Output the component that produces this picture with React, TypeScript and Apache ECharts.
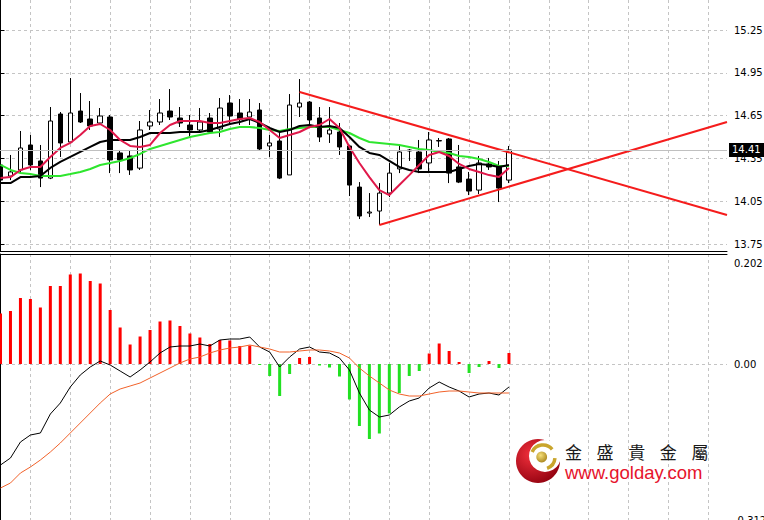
import React, { useEffect, useRef } from 'react';
import * as echarts from 'echarts';

// Candles: [open, close, low, high]
const candles: number[][] = [
  [14.305, 14.199, 14.143, 14.424],
  [14.227, 14.256, 14.199, 14.375],
  [14.270, 14.424, 14.248, 14.543],
  [14.445, 14.305, 14.270, 14.515],
  [14.333, 14.213, 14.150, 14.445],
  [14.213, 14.613, 14.206, 14.711],
  [14.662, 14.459, 14.361, 14.676],
  [14.466, 14.669, 14.459, 14.914],
  [14.683, 14.606, 14.599, 14.809],
  [14.627, 14.578, 14.550, 14.753],
  [14.599, 14.648, 14.585, 14.704],
  [14.641, 14.340, 14.248, 14.655],
  [14.389, 14.340, 14.248, 14.410],
  [14.368, 14.270, 14.235, 14.410],
  [14.283, 14.550, 14.270, 14.613],
  [14.578, 14.606, 14.550, 14.690],
  [14.606, 14.669, 14.585, 14.767],
  [14.683, 14.641, 14.620, 14.837],
  [14.634, 14.599, 14.571, 14.711],
  [14.585, 14.550, 14.494, 14.655],
  [14.550, 14.606, 14.536, 14.704],
  [14.634, 14.536, 14.522, 14.669],
  [14.557, 14.704, 14.501, 14.774],
  [14.739, 14.648, 14.599, 14.795],
  [14.669, 14.627, 14.585, 14.767],
  [14.641, 14.676, 14.585, 14.767],
  [14.690, 14.417, 14.410, 14.739],
  [14.438, 14.459, 14.361, 14.515],
  [14.473, 14.213, 14.206, 14.536],
  [14.235, 14.725, 14.235, 14.802],
  [14.711, 14.739, 14.641, 14.907],
  [14.746, 14.620, 14.585, 14.753],
  [14.634, 14.501, 14.466, 14.711],
  [14.522, 14.550, 14.459, 14.711],
  [14.536, 14.431, 14.375, 14.599],
  [14.438, 14.164, 14.087, 14.445],
  [14.150, 13.947, 13.926, 14.185],
  [13.968, 13.975, 13.940, 14.108],
  [13.982, 14.108, 13.884, 14.178],
  [14.108, 14.248, 14.080, 14.319],
  [14.277, 14.396, 14.248, 14.438],
  [14.403, 14.410, 14.333, 14.417],
  [14.396, 14.277, 14.248, 14.480],
  [14.319, 14.480, 14.248, 14.536],
  [14.473, 14.476, 14.431, 14.494],
  [14.487, 14.248, 14.178, 14.494],
  [14.291, 14.185, 14.178, 14.445],
  [14.206, 14.122, 14.094, 14.256],
  [14.129, 14.319, 14.101, 14.368],
  [14.312, 14.291, 14.270, 14.354],
  [14.291, 14.143, 14.045, 14.333],
  [14.199, 14.410, 14.178, 14.438],
];

const maFast = [
  14.213, 14.220, 14.270, 14.291, 14.291, 14.361, 14.424, 14.459, 14.515, 14.578,
  14.592, 14.550, 14.480, 14.438, 14.431, 14.445, 14.529, 14.585, 14.613, 14.613,
  14.613, 14.599, 14.599, 14.613, 14.627, 14.634, 14.606, 14.550, 14.494, 14.515,
  14.536, 14.571, 14.585, 14.627, 14.564, 14.431, 14.319, 14.220, 14.129, 14.094,
  14.164, 14.234, 14.305, 14.375, 14.396, 14.368, 14.312, 14.277, 14.256, 14.234,
  14.220, 14.284,
];

const maMid = [
  14.178, 14.178, 14.220, 14.220, 14.227, 14.284, 14.326, 14.361, 14.396, 14.431,
  14.466, 14.480, 14.480, 14.480, 14.501, 14.529, 14.529, 14.529, 14.536, 14.536,
  14.536, 14.550, 14.571, 14.592, 14.606, 14.627, 14.599, 14.564, 14.536, 14.550,
  14.578, 14.585, 14.571, 14.578, 14.564, 14.501, 14.431, 14.389, 14.375, 14.333,
  14.291, 14.270, 14.256, 14.256, 14.256, 14.256, 14.277, 14.298, 14.312, 14.305,
  14.291, 14.305,
];

const maSlow = [
  14.305, 14.270, 14.249, 14.241, 14.227, 14.227, 14.227, 14.241, 14.256, 14.277,
  14.305, 14.319, 14.333, 14.354, 14.382, 14.417, 14.438, 14.459, 14.480, 14.501,
  14.515, 14.529, 14.536, 14.557, 14.571, 14.571, 14.564, 14.550, 14.543, 14.557,
  14.564, 14.571, 14.571, 14.571, 14.550, 14.529, 14.494, 14.466, 14.459, 14.452,
  14.445, 14.431, 14.417, 14.410, 14.396, 14.389, 14.368, 14.361, 14.347, 14.326,
  14.298, 14.298,
];

const macdHist = [
  0.101, 0.106, 0.132, 0.130, 0.113, 0.156, 0.156, 0.179, 0.181, 0.166,
  0.161, 0.108, 0.073, 0.039, 0.055, 0.068, 0.085, 0.087, 0.076, 0.061,
  0.053, 0.040, 0.048, 0.047, 0.036, 0.037, -0.002, -0.024, -0.064, -0.020,
  0.012, 0.014, -0.003, -0.007, -0.025, -0.071, -0.124, -0.150, -0.139, -0.099,
  -0.058, -0.024, -0.014, 0.021, 0.041, 0.026, 0.004, -0.018, -0.006, 0.006,
  -0.008, 0.022,
];

const macdLine = [
  -0.202, -0.188, -0.156, -0.142, -0.138, -0.100, -0.078, -0.046, -0.022, -0.006,
  0.006, -0.002, -0.014, -0.026, -0.012, 0.004, 0.022, 0.034, 0.036, 0.036,
  0.040, 0.036, 0.048, 0.050, 0.050, 0.054, 0.034, 0.024, -0.006, 0.014,
  0.030, 0.034, 0.024, 0.022, 0.012, -0.012, -0.058, -0.092, -0.106, -0.102,
  -0.086, -0.074, -0.068, -0.048, -0.036, -0.046, -0.054, -0.066, -0.060, -0.058,
  -0.062, -0.046,
];

const signalLine = [
  -0.248, -0.238, -0.218, -0.206, -0.192, -0.176, -0.158, -0.138, -0.118, -0.098,
  -0.078, -0.060, -0.050, -0.044, -0.038, -0.028, -0.018, -0.008, 0.002, 0.010,
  0.014, 0.022, 0.028, 0.032, 0.034, 0.038, 0.034, 0.030, 0.024, 0.024,
  0.026, 0.028, 0.028, 0.026, 0.022, 0.012, -0.008, -0.024, -0.038, -0.052,
  -0.060, -0.064, -0.064, -0.060, -0.056, -0.054, -0.054, -0.056, -0.058, -0.058,
  -0.058, -0.058,
];

// trend lines: [barIndex, price]
const upperTrend = [[30, 14.816], [72.87, 13.954]];
const lowerTrend = [[38, 13.884], [72.87, 14.606]];

const lastPrice = 14.41;
const priceTicks = [13.75, 14.05, 14.35, 14.65, 14.95, 15.25];
const macdTicks = [0.202, 0, -0.312];
const macdTickLabels = ['0.202', '0.00', '-0.312'];
const gridColumns = [3, 7, 11, 15, 19, 23, 27, 31, 35, 39, 43, 47, 51, 55, 59, 63, 67, 71];

const brandName = '金盛貴金屬';
const brandUrl = 'www.golday.com';

const X_MIN = -0.05;
const X_MAX = 72.87;

export default function App() {
  const ref = useRef<HTMLDivElement>(null);

  useEffect(() => {
    document.body.style.margin = '0';
    if (!ref.current) return;
    const chart = echarts.init(ref.current, null, { renderer: 'svg' });

    const dash = { color: '#c4c4c4', type: [3, 3] as any, width: 1 };
    const axisFont = { fontFamily: 'DejaVu Sans', fontSize: 10, color: '#000' };

    const xAxisBase = (gridIndex: number, position: string) => ({
      type: 'value',
      gridIndex,
      min: X_MIN,
      max: X_MAX,
      position,
      axisLine: { show: true, onZero: false, lineStyle: { color: '#000', width: 1 } },
      axisTick: { show: false, customValues: gridColumns },
      axisLabel: { show: false },
      splitLine: { show: true, lineStyle: dash },
    });

    const idx = (arr: number[]) => arr.map((v, i) => [i, v]);

    const option: any = {
      animation: false,
      backgroundColor: '#ffffff',
      grid: [
        { left: 0, right: 37, top: 0, height: 251, outerBoundsMode: 'none', containLabel: false },
        { left: 0, right: 37, top: 254, bottom: 0, outerBoundsMode: 'none', containLabel: false },
      ],
      xAxis: [xAxisBase(0, 'bottom'), xAxisBase(1, 'top')],
      yAxis: [
        {
          type: 'value',
          gridIndex: 0,
          position: 'right',
          min: 13.702,
          max: 15.461,
          axisLine: { show: true, lineStyle: { color: '#000', width: 1 } },
          axisTick: { show: true, length: 4, inside: false, customValues: priceTicks, lineStyle: { color: '#000' } },
          axisLabel: {
            ...axisFont,
            margin: 7,
            customValues: priceTicks,
            formatter: (v: number) => v.toFixed(2),
          },
          splitLine: { show: true, lineStyle: dash },
        },
        {
          type: 'value',
          gridIndex: 1,
          position: 'right',
          min: -0.312,
          max: 0.22,
          axisLine: { show: true, lineStyle: { color: '#000', width: 1 } },
          axisTick: { show: false, customValues: [0] },
          axisLabel: {
            ...axisFont,
            margin: 7,
            customValues: macdTicks,
            formatter: (v: number) => {
              const k = macdTicks.findIndex((t) => Math.abs(t - v) < 1e-6);
              return k >= 0 ? macdTickLabels[k] : '';
            },
          },
          splitLine: { show: true, lineStyle: dash },
        },
      ],
      series: [
        {
          type: 'candlestick',
          xAxisIndex: 0,
          yAxisIndex: 0,
          barWidth: 5,
          z: 2,
          encode: { x: 0, y: [1, 2, 3, 4] },
          data: candles.map((c, i) => [i, c[0], c[1], c[2], c[3]]),
          itemStyle: {
            color: '#ffffff',
            color0: '#000000',
            borderColor: '#000000',
            borderColor0: '#000000',
            borderWidth: 1,
          },
          markLine: {
            silent: true,
            symbol: ['none', 'none'],
            data: [{ yAxis: lastPrice }],
            lineStyle: { color: '#c0c0c0', type: 'solid', width: 1 },
            label: {
              show: true,
              position: 'end',
              distance: 2,
              formatter: lastPrice.toFixed(2),
              color: '#ffffff',
              backgroundColor: '#000000',
              padding: [2, 4, 1, 3],
              lineHeight: 11,
              fontFamily: 'DejaVu Sans',
              fontSize: 10,
            },
          },
        },
        {
          type: 'line', xAxisIndex: 0, yAxisIndex: 0, z: 3, symbol: 'none',
          data: idx(maSlow), lineStyle: { color: '#2ee62e', width: 2 },
        },
        {
          type: 'line', xAxisIndex: 0, yAxisIndex: 0, z: 3, symbol: 'none',
          data: idx(maMid), lineStyle: { color: '#000000', width: 2 },
        },
        {
          type: 'line', xAxisIndex: 0, yAxisIndex: 0, z: 3, symbol: 'none',
          data: idx(maFast), lineStyle: { color: '#e0184a', width: 2 },
        },
        {
          type: 'line', xAxisIndex: 0, yAxisIndex: 0, z: 4, symbol: 'none',
          data: upperTrend, lineStyle: { color: '#f51c1c', width: 2 },
        },
        {
          type: 'line', xAxisIndex: 0, yAxisIndex: 0, z: 4, symbol: 'none',
          data: lowerTrend, lineStyle: { color: '#f51c1c', width: 2 },
        },
        {
          type: 'bar', xAxisIndex: 1, yAxisIndex: 1, barWidth: 3, z: 2,
          data: idx(macdHist),
          itemStyle: {
            color: (p: any) => (p.value[1] >= 0 ? '#ff0000' : '#22e022'),
          },
        },
        {
          type: 'line', xAxisIndex: 1, yAxisIndex: 1, z: 3, symbol: 'none',
          data: idx(macdLine), lineStyle: { color: '#000000', width: 1 },
        },
        {
          type: 'line', xAxisIndex: 1, yAxisIndex: 1, z: 3, symbol: 'none',
          data: idx(signalLine), lineStyle: { color: '#f2622a', width: 1 },
        },
      ],
      graphic: [
        {
          type: 'circle',
          z: 100,
          shape: { cx: 538, cy: 461, r: 22 },
          style: {
            fill: new echarts.graphic.RadialGradient(0.35, 0.35, 0.75, [
              { offset: 0, color: '#f2303c' },
              { offset: 1, color: '#8e000e' },
            ]),
          },
        },
        { type: 'circle', z: 101, shape: { cx: 545, cy: 456, r: 16 }, style: { fill: '#ffffff' } },
        {
          type: 'arc', z: 102,
          shape: { cx: 543, cy: 457, r: 12, startAngle: (205 * Math.PI) / 180, endAngle: (320 * Math.PI) / 180 },
          style: { stroke: '#c9a52c', lineWidth: 3.5, fill: null },
        },
        {
          type: 'arc', z: 102,
          shape: { cx: 543, cy: 457, r: 12, startAngle: (5 * Math.PI) / 180, endAngle: (70 * Math.PI) / 180 },
          style: { stroke: '#c9a52c', lineWidth: 3.5, fill: null },
        },
        {
          type: 'circle', z: 103,
          shape: { cx: 541.7, cy: 457, r: 5.4 },
          style: {
            fill: new echarts.graphic.RadialGradient(0.4, 0.35, 0.7, [
              { offset: 0, color: '#f6e07a' },
              { offset: 1, color: '#a8841c' },
            ]),
          },
        },
        ...brandName.split('').map((ch, k) => ({
          type: 'text',
          z: 104,
          x: 573.5 + k * 31.6,
          y: 451,
          style: {
            text: ch,
            fill: '#1a1a1a',
            font: 'normal 17px "Noto Sans CJK TC"',
            lineHeight: 17,
            align: 'center',
            verticalAlign: 'middle',
          },
        })),
        {
          type: 'text',
          z: 104,
          x: 565,
          y: 472,
          style: {
            text: brandUrl,
            fill: '#e6132b',
            font: 'normal 18.5px "Liberation Sans"',
            lineHeight: 18,
            align: 'left',
            verticalAlign: 'middle',
          },
        },
      ],
    };

    chart.setOption(option);
    return () => chart.dispose();
  }, []);

  return <div ref={ref} style={{ width: 764, height: 520 }} />;
}
